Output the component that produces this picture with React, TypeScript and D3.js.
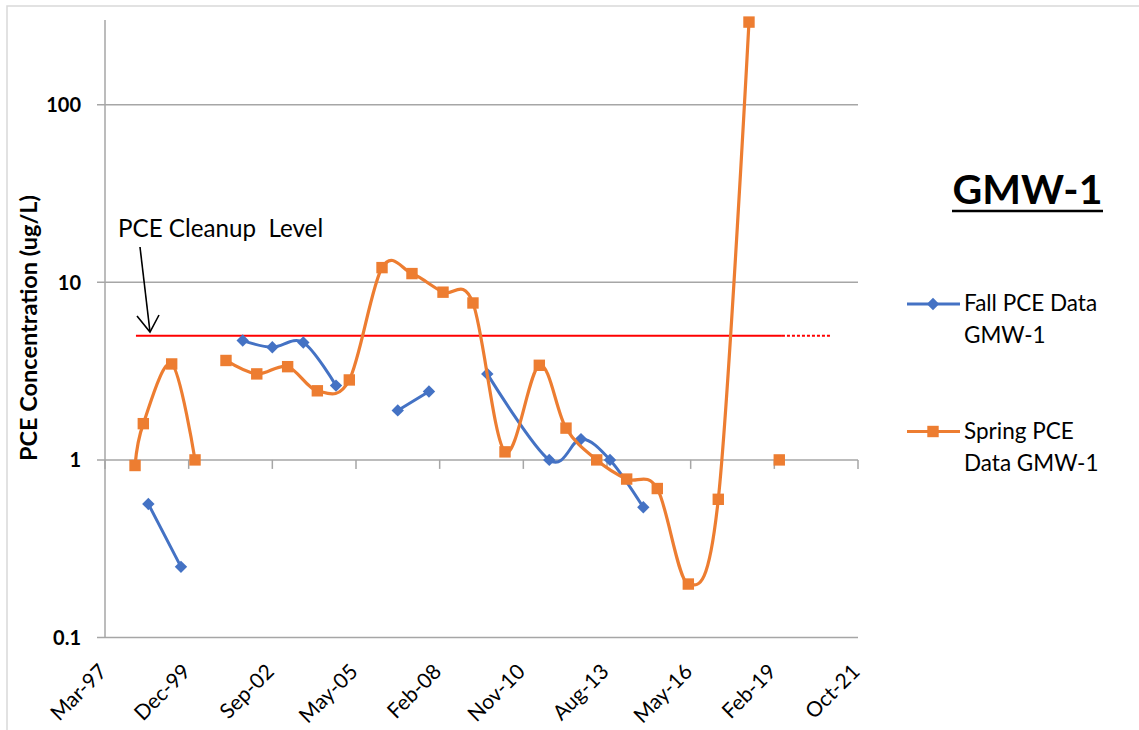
import React from 'react';
import * as d3 from 'd3';

// Spring PCE data (null = gap in the series)
const springDates = [
  '1998-03-05', '1998-06-12', '1999-05-17', '2000-02-20', '2000-08-01',
  '2001-02-24', '2002-02-27', '2003-03-03', '2004-02-21', '2005-03-09',
  '2006-04-04', '2007-03-28', '2008-04-02', '2009-03-26', '2010-04-13',
  '2011-05-28', '2012-04-11', '2013-04-13', '2014-04-06', '2015-04-07',
  '2016-04-12', '2017-04-05', '2018-04-07', '2018-10-01', '2019-04-04',
];
const springValues: (number | null)[] = [
  0.93, 1.6, 3.47, 1.0, null,
  3.63, 3.05, 3.35, 2.45, 2.82,
  12.1, 11.2, 8.8, 7.65, 1.11,
  3.41, 1.51, 1.0, 0.78, 0.69,
  0.2, 0.6, 292, null, 1.0,
];

// Fall PCE data (null = gap in the series)
const fallDates = [
  '1998-08-11', '1999-09-05', '2000-09-01',
  '2001-09-12', '2002-09-01', '2003-09-06', '2004-10-01', '2005-09-01',
  '2006-10-09', '2007-10-17', '2008-09-01',
  '2009-09-13', '2011-09-24', '2012-10-07', '2013-09-19', '2014-10-22',
];
const fallValues: (number | null)[] = [
  0.565, 0.25, null,
  4.7, 4.31, 4.58, 2.62, null,
  1.9, 2.43, null,
  3.05, 1.0, 1.31, 1.0, 0.541,
];

const cleanupDates = ['1998-03-16', '2019-05-06', '2020-11-30'];
const cleanupLevel = 5;

const xDomain = ['1997-03-11', '2021-10-31'];
const tickDates = [
  '1997-03-11', '1999-12-06', '2002-09-01', '2005-05-28', '2008-02-22',
  '2010-11-18', '2013-08-14', '2016-05-10', '2019-02-04', '2021-10-31',
];
const tickLabels = [
  'Mar-97', 'Dec-99', 'Sep-02', 'May-05', 'Feb-08',
  'Nov-10', 'Aug-13', 'May-16', 'Feb-19', 'Oct-21',
];
const yTicks = [0.1, 1, 10, 100];
const yTickLabels = ['0.1', '1', '10', '100'];
const yDomain = [0.1, 300];

const BLUE = '#4472C4';
const ORANGE = '#ED7D31';
const GRID = '#a6a6a6';
const FONT = 'Lato, Carlito, Calibri, sans-serif';

const parse = (s: string) => new Date(s + 'T00:00:00Z');

export default function App() {
  const left = 105, right = 858, top = 20, bottom = 637.5;
  const x = d3.scaleUtc().domain(xDomain.map(parse)).range([left, right]);
  const y = d3.scaleLog().domain(yDomain).range([bottom, top]);

  type P = [Date, number | null];
  const line = d3
    .line<P>()
    .defined((d) => d[1] != null)
    .x((d) => x(d[0]))
    .y((d) => y(d[1] as number))
    .curve(d3.curveCatmullRom.alpha(0));

  const spring: P[] = springDates.map((d, i) => [parse(d), springValues[i]]);
  const fall: P[] = fallDates.map((d, i) => [parse(d), fallValues[i]]);
  const axisY = y(1);

  const diamond = 'M0,-6.2L6.2,0L0,6.2L-6.2,0Z';

  return (
    <svg
      width={1139}
      height={730}
      style={{ position: 'absolute', left: 0, top: 0, background: '#fff' }}
      fontFamily={FONT}
    >
      <rect x={0} y={0} width={1139} height={730} fill="#fff" />
      {/* chart border */}
      <rect x={7} y={6} width={1200} height={800} fill="none" stroke="#d9d9d9" strokeWidth={1.5} />

      {/* horizontal gridlines */}
      {yTicks.map((t) => (
        <line key={'g' + t} x1={left - 8} x2={right} y1={y(t)} y2={y(t)} stroke={GRID} strokeWidth={1.5} />
      ))}
      {/* y axis */}
      <line x1={left} x2={left} y1={top} y2={bottom} stroke={GRID} strokeWidth={1.5} />
      {/* x axis ticks at y=1 */}
      {tickDates.map((t) => (
        <line key={'xt' + t} x1={x(parse(t))} x2={x(parse(t))} y1={axisY} y2={axisY + 9} stroke={GRID} strokeWidth={1.5} />
      ))}

      {/* y tick labels */}
      {yTicks.map((t, i) => (
        <text key={'yl' + t} x={81} y={y(t)} dy="0.36em" textAnchor="end" fontWeight="bold" fontSize={20} fill="#000">
          {yTickLabels[i]}
        </text>
      ))}
      {/* x tick labels */}
      {tickDates.map((t, i) => (
        <text
          key={'xl' + t}
          transform={`translate(${x(parse(t)) + 3},673) rotate(-45)`}
          textAnchor="end"
          fontSize={21}
          fill="#000"
        >
          {tickLabels[i]}
        </text>
      ))}

      {/* y axis title */}
      <text transform="translate(37,328) rotate(-90)" textAnchor="middle" fontWeight="bold" fontSize={23.5} fill="#000">
        PCE Concentration (ug/L)
      </text>

      {/* cleanup level */}
      <line
        x1={x(parse(cleanupDates[0]))}
        x2={x(parse(cleanupDates[1]))}
        y1={y(cleanupLevel)}
        y2={y(cleanupLevel)}
        stroke="#ff0000"
        strokeWidth={2}
      />
      <line
        x1={x(parse(cleanupDates[1]))}
        x2={x(parse(cleanupDates[2]))}
        y1={y(cleanupLevel)}
        y2={y(cleanupLevel)}
        stroke="#ff0000"
        strokeWidth={2}
        strokeDasharray="3,2"
      />

      {/* Fall series */}
      <path d={line(fall) || ''} fill="none" stroke={BLUE} strokeWidth={3} strokeLinejoin="round" />
      {fall
        .filter((d) => d[1] != null)
        .map((d, i) => (
          <path key={'f' + i} d={diamond} transform={`translate(${x(d[0])},${y(d[1] as number)})`} fill={BLUE} />
        ))}

      {/* Spring series */}
      <path d={line(spring) || ''} fill="none" stroke={ORANGE} strokeWidth={3.2} strokeLinejoin="round" />
      {spring
        .filter((d) => d[1] != null)
        .map((d, i) => (
          <rect key={'s' + i} x={x(d[0]) - 5.7} y={y(d[1] as number) - 5.7} width={11.4} height={11.4} fill={ORANGE} />
        ))}

      {/* annotation */}
      <text x={118} y={237} fontSize={24.2} fill="#000" style={{ whiteSpace: 'pre' }}>
        {'PCE Cleanup  Level'}
      </text>
      <line x1={140} y1={247} x2={150} y2={332} stroke="#000" strokeWidth={1.6} />
      <polyline points="137,316 150,332 159,315" fill="none" stroke="#000" strokeWidth={1.6} />

      {/* title */}
      <text x={1027.5} y={204} textAnchor="middle" fontWeight="bold" fontSize={41} fill="#000">
        GMW-1
      </text>
      <line x1={952} x2={1103} y1={211} y2={211} stroke="#000" strokeWidth={2.5} />

      {/* legend */}
      <line x1={907} x2={960} y1={304} y2={304} stroke={BLUE} strokeWidth={3} />
      <path d={diamond} transform="translate(933,304)" fill={BLUE} />
      <text x={964} y={311} fontSize={22.5} fill="#000">Fall PCE Data</text>
      <text x={964} y={343} fontSize={22.5} fill="#000">GMW-1</text>

      <line x1={907} x2={960} y1={431.5} y2={431.5} stroke={ORANGE} strokeWidth={3} />
      <rect x={933 - 5.7} y={431.5 - 5.7} width={11.4} height={11.4} fill={ORANGE} />
      <text x={964} y={439} fontSize={22.5} fill="#000">Spring PCE</text>
      <text x={964} y={471} fontSize={22.5} fill="#000">Data GMW-1</text>
    </svg>
  );
}
